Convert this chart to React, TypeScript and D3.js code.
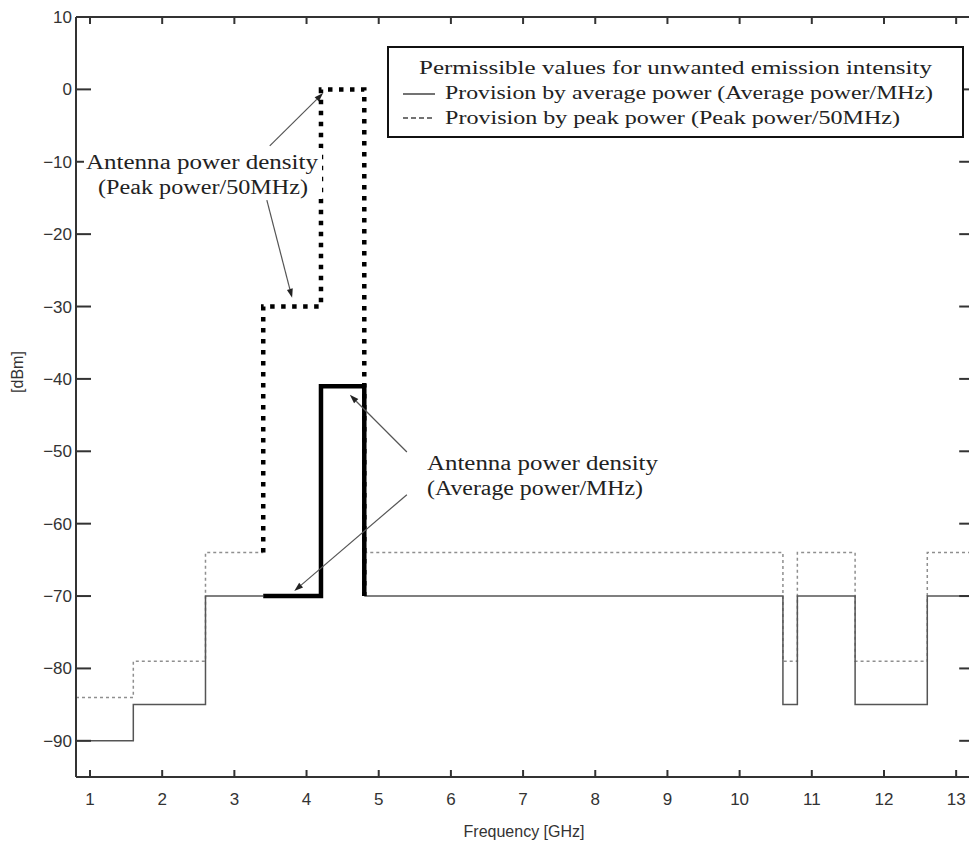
import React from "react";
import * as d3 from "d3";

// ---- data ----
const xTicks = [1, 2, 3, 4, 5, 6, 7, 8, 9, 10, 11, 12, 13];
const yTicks = [10, 0, -10, -20, -30, -40, -50, -60, -70, -80, -90];

// Permissible limit (average power / MHz) — step breakpoints
const avgLimitFreqA = [0.806, 1.6, 2.6, 3.4];
const avgLimitValA = [-90, -85, -70, -70];
const avgLimitFreqB = [4.8, 10.6, 10.8, 11.6, 12.6, 13.25];
const avgLimitValB = [-70, -85, -70, -85, -70, -70];

// Permissible limit (peak power / 50MHz) — step breakpoints
const peakLimitFreqA = [0.806, 1.6, 2.6, 3.4];
const peakLimitValA = [-84, -79, -64, -64];
const peakLimitFreqB = [4.8, 10.6, 10.8, 11.6, 12.6, 13.25];
const peakLimitValB = [-64, -79, -64, -79, -64, -64];

// Antenna power density (peak power / 50MHz)
const antPeakFreq = [3.4, 3.4, 4.2, 4.2, 4.8, 4.8];
const antPeakVal = [-64, -30, -30, 0, 0, -70];

// Antenna power density (average power / MHz)
const antAvgFreq = [3.4, 4.2, 4.2, 4.8, 4.8];
const antAvgVal = [-70, -70, -41, -41, -70];

const legendTitle = "Permissible values for unwanted emission intensity";
const legendItems = [
  "Provision by average power (Average power/MHz)",
  "Provision by peak power (Peak power/50MHz)",
];

export default function App() {
  const W = 969;
  const H = 848;
  const left = 76, top = 17, bottom = 777;
  const x = d3.scaleLinear().domain([0.806, 13.25]).range([left, 974.2]);
  const right = x(13.25);
  const y = d3.scaleLinear().domain([10, -95]).range([top, bottom]);

  const stepLine = d3
    .line<[number, number]>()
    .x((d) => x(d[0]))
    .y((d) => y(d[1]))
    .curve(d3.curveStepAfter);
  const polyLine = d3
    .line<[number, number]>()
    .x((d) => x(d[0]))
    .y((d) => y(d[1]));

  const zip = (a: number[], b: number[]) => a.map((v, i) => [v, b[i]] as [number, number]);

  const serif = "'Liberation Serif', 'DejaVu Serif', serif";
  const sans = "'Liberation Sans', Arial, sans-serif";

  const arrow = (x1: number, y1: number, x2: number, y2: number, key: string) => {
    const px1 = x(x1), py1 = y(y1), px2 = x(x2), py2 = y(y2);
    const ang = Math.atan2(py2 - py1, px2 - px1);
    const L = 9, w = 3;
    const bx = px2 - L * Math.cos(ang), by = py2 - L * Math.sin(ang);
    const p1 = [bx + w * Math.sin(ang), by - w * Math.cos(ang)];
    const p2 = [bx - w * Math.sin(ang), by + w * Math.cos(ang)];
    return (
      <g key={key}>
        <line x1={px1} y1={py1} x2={bx} y2={by} stroke="#555" strokeWidth={1.2} />
        <path d={`M${px2},${py2}L${p1[0]},${p1[1]}L${p2[0]},${p2[1]}Z`} fill="#222" />
      </g>
    );
  };

  return (
    <svg
      width={W}
      height={H}
      style={{ position: "absolute", left: 0, top: 0, background: "#fff" }}
    >
      <rect x={0} y={0} width={W} height={H} fill="#fff" />
      {/* limit lines */}
      <path d={stepLine(zip(peakLimitFreqA, peakLimitValA)) || ""} fill="none" stroke="#8f8f8f" strokeWidth={1.5} strokeDasharray="3,3" />
      <path d={stepLine(zip(peakLimitFreqB, peakLimitValB)) || ""} fill="none" stroke="#8f8f8f" strokeWidth={1.5} strokeDasharray="3,3" />
      <path d={stepLine(zip(avgLimitFreqA, avgLimitValA)) || ""} fill="none" stroke="#555" strokeWidth={1.5} />
      <path d={stepLine(zip(avgLimitFreqB, avgLimitValB)) || ""} fill="none" stroke="#555" strokeWidth={1.5} />
      {/* antenna power densities */}
      <path d={polyLine(zip(antPeakFreq, antPeakVal)) || ""} fill="none" stroke="#000" strokeWidth={4.5} strokeDasharray="4.5,6.5" />
      <path d={polyLine(zip(antAvgFreq, antAvgVal)) || ""} fill="none" stroke="#000" strokeWidth={4.5} strokeLinejoin="miter" />

      {/* frame */}
      <line x1={left} y1={top} x2={right} y2={top} stroke="#333" strokeWidth={2} />
      <line x1={left} y1={bottom} x2={right} y2={bottom} stroke="#333" strokeWidth={2} />
      <line x1={left} y1={top} x2={left} y2={bottom} stroke="#333" strokeWidth={2} />
      <line x1={right} y1={top} x2={right} y2={bottom} stroke="#333" strokeWidth={2} />
      {yTicks.map((t) => (
        <g key={"yt" + t}>
          <line x1={left} x2={left + 15} y1={y(t)} y2={y(t)} stroke="#333" strokeWidth={2} />
          <line x1={right - 15} x2={right} y1={y(t)} y2={y(t)} stroke="#333" strokeWidth={2} />
          <text x={left - 4} y={y(t) + 6} textAnchor="end" fontFamily={sans} fontSize={17} fill="#333">
            {t < 0 ? "\u2212" + Math.abs(t) : String(t)}
          </text>
        </g>
      ))}
      {xTicks.map((t) => (
        <g key={"xt" + t}>
          <line x1={x(t)} x2={x(t)} y1={bottom} y2={bottom - 7} stroke="#333" strokeWidth={2} />
          <line x1={x(t)} x2={x(t)} y1={top} y2={top + 7} stroke="#333" strokeWidth={2} />
          <text x={x(t)} y={805} textAnchor="middle" fontFamily={sans} fontSize={17} fill="#333">
            {t}
          </text>
        </g>
      ))}
      <text x={524} y={837} textAnchor="middle" fontFamily={sans} fontSize={16} fill="#333">
        Frequency [GHz]
      </text>
      <text transform="translate(23,372) rotate(-90)" textAnchor="middle" fontFamily={sans} fontSize={16} fill="#333">
        [dBm]
      </text>

      {/* annotation: peak */}
      <rect x={84} y={148} width={238} height={51} fill="#fff" />
      <text x={86} y={169} fontFamily={serif} fontSize={20} fill="#222" textLength={232} lengthAdjust="spacingAndGlyphs">
        Antenna power density
      </text>
      <text x={98} y={194} fontFamily={serif} fontSize={20} fill="#222" textLength={210} lengthAdjust="spacingAndGlyphs">
        (Peak power/50MHz)
      </text>
      {arrow(3.49, -7.8, 4.23, -0.5, "a1")}
      {arrow(3.45, -15.3, 3.8, -28.8, "a2")}

      {/* annotation: average */}
      <text x={427} y={470} fontFamily={serif} fontSize={20} fill="#222" textLength={231} lengthAdjust="spacingAndGlyphs">
        Antenna power density
      </text>
      <text x={427} y={495} fontFamily={serif} fontSize={20} fill="#222" textLength={216} lengthAdjust="spacingAndGlyphs">
        (Average power/MHz)
      </text>
      {arrow(5.39, -50.1, 4.6, -42.2, "a3")}
      {arrow(5.39, -56, 3.83, -69.3, "a4")}

      {/* legend */}
      <rect x={388} y={47} width={575} height={90} fill="#fff" stroke="#111" strokeWidth={2} />
      <text x={675.5} y={74} textAnchor="middle" fontFamily={serif} fontSize={19} fill="#222" textLength={513} lengthAdjust="spacingAndGlyphs">
        {legendTitle}
      </text>
      <line x1={403} x2={435} y1={94} y2={94} stroke="#444" strokeWidth={1.5} />
      <text x={445} y={99} fontFamily={serif} fontSize={19} fill="#222" textLength={488} lengthAdjust="spacingAndGlyphs">
        {legendItems[0]}
      </text>
      <line x1={403} x2={435} y1={118} y2={118} stroke="#444" strokeWidth={1.5} strokeDasharray="5,3" />
      <text x={445} y={124} fontFamily={serif} fontSize={19} fill="#222" textLength={455} lengthAdjust="spacingAndGlyphs">
        {legendItems[1]}
      </text>
    </svg>
  );
}
